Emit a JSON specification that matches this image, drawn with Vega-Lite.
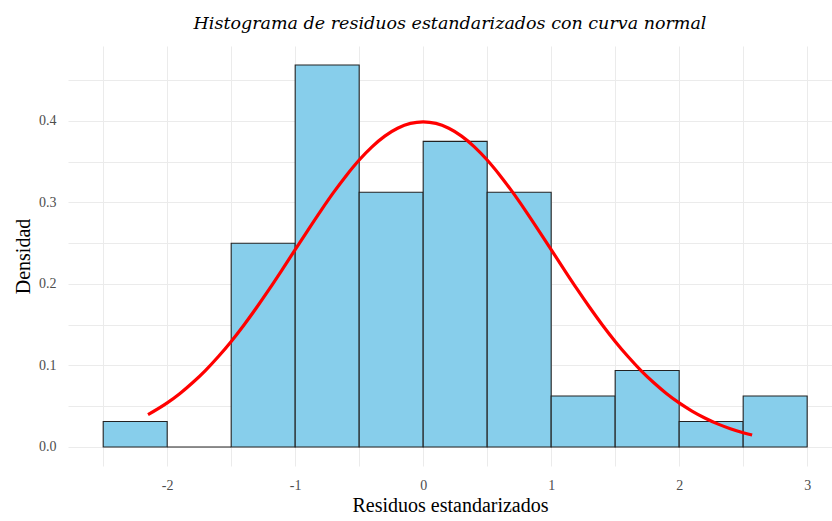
{
  "$schema": "https://vega.github.io/schema/vega-lite/v6.json",
  "width": 764,
  "height": 420,
  "autosize": "none",
  "padding": {"left": 68, "top": 46, "right": 0, "bottom": 55},
  "background": "white",
  "config": {
    "view": {"stroke": null},
    "font": "Liberation Serif",
    "axis": {
      "gridColor": "#ebebeb",
      "gridWidth": 1,
      "domain": false,
      "ticks": true,
      "tickColor": "transparent",
      "labelFont": "Liberation Serif",
      "labelFontSize": 14,
      "labelColor": "#4d4d4d",
      "titleFont": "Liberation Serif",
      "titleFontSize": 20,
      "titleFontWeight": "normal",
      "titleColor": "#000000"
    }
  },
  "title": {
    "text": "Histograma de residuos estandarizados con curva normal",
    "font": "DejaVu Serif",
    "fontSize": 17.5,
    "fontStyle": "italic",
    "fontWeight": "normal",
    "color": "#000000",
    "anchor": "middle",
    "offset": 14
  },
  "datasets": {
    "bins": [
      {"x0": -2.5, "x1": -2.0, "d": 0.03125},
      {"x0": -2.0, "x1": -1.5, "d": 0.0},
      {"x0": -1.5, "x1": -1.0, "d": 0.25},
      {"x0": -1.0, "x1": -0.5, "d": 0.46875},
      {"x0": -0.5, "x1": 0.0, "d": 0.3125},
      {"x0": 0.0, "x1": 0.5, "d": 0.375},
      {"x0": 0.5, "x1": 1.0, "d": 0.3125},
      {"x0": 1.0, "x1": 1.5, "d": 0.0625},
      {"x0": 1.5, "x1": 2.0, "d": 0.09375},
      {"x0": 2.0, "x1": 2.5, "d": 0.03125},
      {"x0": 2.5, "x1": 3.0, "d": 0.0625}
    ],
    "curve": [
      {"x": -2.15, "y": 0.0396},
      {"x": -2.0, "y": 0.054},
      {"x": -1.9, "y": 0.0656},
      {"x": -1.8, "y": 0.079},
      {"x": -1.7, "y": 0.094},
      {"x": -1.6, "y": 0.1109},
      {"x": -1.5, "y": 0.1295},
      {"x": -1.4, "y": 0.1497},
      {"x": -1.3, "y": 0.1714},
      {"x": -1.2, "y": 0.1942},
      {"x": -1.1, "y": 0.2179},
      {"x": -1.0, "y": 0.242},
      {"x": -0.9, "y": 0.2661},
      {"x": -0.8, "y": 0.2897},
      {"x": -0.7, "y": 0.3123},
      {"x": -0.6, "y": 0.3332},
      {"x": -0.5, "y": 0.3521},
      {"x": -0.4, "y": 0.3683},
      {"x": -0.3, "y": 0.3814},
      {"x": -0.2, "y": 0.391},
      {"x": -0.1, "y": 0.397},
      {"x": 0.0, "y": 0.3989},
      {"x": 0.1, "y": 0.397},
      {"x": 0.2, "y": 0.391},
      {"x": 0.3, "y": 0.3814},
      {"x": 0.4, "y": 0.3683},
      {"x": 0.5, "y": 0.3521},
      {"x": 0.6, "y": 0.3332},
      {"x": 0.7, "y": 0.3123},
      {"x": 0.8, "y": 0.2897},
      {"x": 0.9, "y": 0.2661},
      {"x": 1.0, "y": 0.242},
      {"x": 1.1, "y": 0.2179},
      {"x": 1.2, "y": 0.1942},
      {"x": 1.3, "y": 0.1714},
      {"x": 1.4, "y": 0.1497},
      {"x": 1.5, "y": 0.1295},
      {"x": 1.6, "y": 0.1109},
      {"x": 1.7, "y": 0.094},
      {"x": 1.8, "y": 0.079},
      {"x": 1.9, "y": 0.0656},
      {"x": 2.0, "y": 0.054},
      {"x": 2.1, "y": 0.044},
      {"x": 2.2, "y": 0.0355},
      {"x": 2.3, "y": 0.0283},
      {"x": 2.4, "y": 0.0224},
      {"x": 2.5, "y": 0.0175},
      {"x": 2.57, "y": 0.0147}
    ]
  },
  "layer": [
    {
      "data": {"name": "bins"},
      "mark": {"type": "rect", "fill": "#87CEEB", "stroke": "#222222", "strokeWidth": 1.1},
      "encoding": {
        "x": {
          "field": "x0", "type": "quantitative",
          "scale": {"domain": [-2.775, 3.194], "nice": false, "zero": false},
          "axis": {
            "values": [-2.5, -2, -1.5, -1, -0.5, 0, 0.5, 1, 1.5, 2, 2.5, 3],
            "labelExpr": "datum.value % 1 == 0 ? toString(datum.value) : ''",
            "tickSize": 10,
            "labelPadding": 2,
            "title": "Residuos estandarizados",
            "titlePadding": 3
          }
        },
        "x2": {"field": "x1"},
        "y": {
          "field": "d", "type": "quantitative",
          "scale": {"domain": [-0.0234, 0.492], "nice": false, "zero": false},
          "axis": {
            "values": [0, 0.05, 0.1, 0.15, 0.2, 0.25, 0.3, 0.35, 0.4, 0.45],
            "labelExpr": "(round(datum.value * 100) % 10 == 0) ? format(datum.value, '.1f') : ''",
            "tickSize": 10,
            "labelPadding": 2,
            "title": "Densidad",
            "titlePadding": 5
          }
        },
        "y2": {"datum": 0}
      }
    },
    {
      "data": {"name": "curve"},
      "mark": {"type": "line", "color": "#ff0000", "strokeWidth": 3.2, "interpolate": "monotone"},
      "encoding": {
        "x": {"field": "x", "type": "quantitative"},
        "y": {"field": "y", "type": "quantitative"}
      }
    }
  ]
}
